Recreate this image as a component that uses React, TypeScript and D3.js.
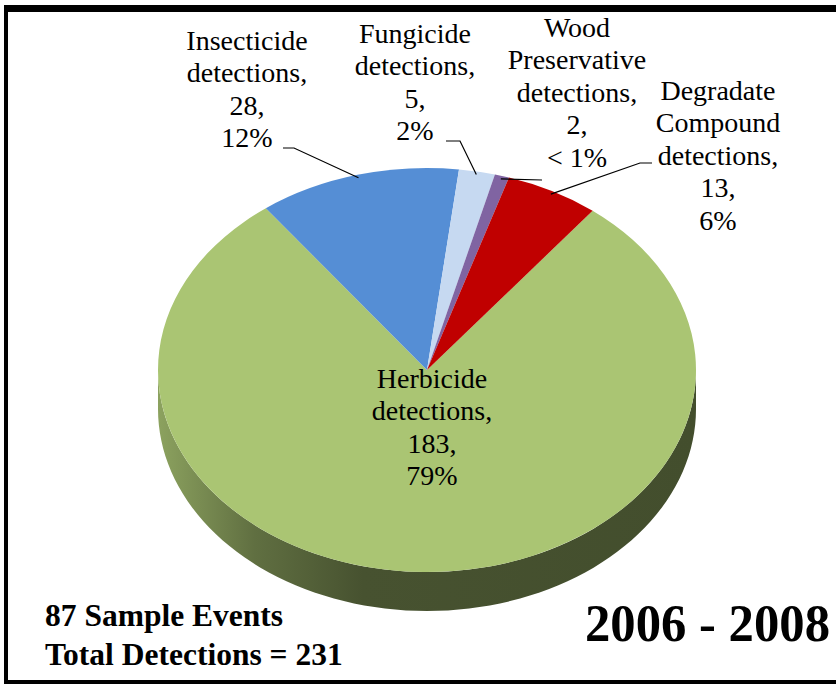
import React from "react";
import * as d3 from "d3";

// ---- data ----
const categories = ["Herbicide", "Insecticide", "Fungicide", "Wood Preservative", "Degradate Compound"];
const detections = [183, 28, 5, 2, 13];
const percentLabels = ["79%", "12%", "2%", "< 1%", "6%"];
const sliceColors = ["#AAC573", "#558ED5", "#C6D9F1", "#8064A2", "#C00000"];
const footerLines = ["87 Sample Events", "Total Detections = 231"];
const periodLabel = "2006 - 2008";
const firstSliceAngle = 38; // degrees, clockwise from 12 o'clock

// ---- layout ----
const W = 836, H = 685;
const cx = 427, cy = 370, rx = 269, ry = 202, depth = 39;
const lineH = 32.5;
const fontFamily = "Liberation Serif, DejaVu Serif, Times New Roman, serif";

// label placement (center x, center y of first line) and leader elbows
const labelLayout = [
  { x: 432, y: 378, leader: null as null | number[][] },
  { x: 247, y: 40, leader: [[283, 148], [294, 148]] },
  { x: 415, y: 33, leader: [[446, 141], [460, 141]] },
  { x: 577, y: 27, leader: [[542, 180]] },
  { x: 718, y: 90, leader: [[652, 163], [640, 163]] },
];

const rad = (d: number) => (d * Math.PI) / 180;
function rim(a: number, r = 1, dy = 0): [number, number] {
  return [cx + rx * r * Math.sin(a), cy - ry * r * Math.cos(a) + dy];
}

export default function App() {
  const start = rad(firstSliceAngle);
  const pie = d3.pie<number>().sort(null).startAngle(start).endAngle(start + 2 * Math.PI);
  const arcs = pie(detections);
  const arcGen = d3.arc<d3.PieArcDatum<number>>().innerRadius(0).outerRadius(rx);
  const line = d3.line();

  const sides: { i: number; d: string }[] = [];
  arcs.forEach((a, i) => {
    for (const off of [0, 2 * Math.PI]) {
      const lo = Math.max(a.startAngle, Math.PI / 2 + off);
      const hi = Math.min(a.endAngle, (3 * Math.PI) / 2 + off);
      if (hi > lo) {
        const n = 80;
        const pts: [number, number][] = [];
        for (let k = 0; k <= n; k++) pts.push(rim(lo + ((hi - lo) * k) / n));
        for (let k = n; k >= 0; k--) pts.push(rim(lo + ((hi - lo) * k) / n, 1, depth));
        sides.push({ i, d: line(pts) + "Z" });
      }
    }
  });

  const labelLines = (i: number) => [
    ...categories[i].split(" "),
    "detections,",
    `${detections[i]},`,
    percentLabels[i],
  ];

  return (
    <svg
      width={W}
      height={H}
      style={{ position: "absolute", left: 0, top: 0, background: "#fff", fontFamily }}
    >
      <defs>
        {sliceColors.map((c, i) => {
          const base = d3.color(c)!;
          return (
            <linearGradient
              key={i}
              id={`side${i}`}
              gradientUnits="userSpaceOnUse"
              x1={cx - rx}
              x2={cx + rx}
              y1={0}
              y2={0}
            >
              <stop offset="0" stopColor={base.darker(0.55).formatHex()} />
              <stop offset="0.18" stopColor={base.darker(1.6).formatHex()} />
              <stop offset="0.38" stopColor={base.darker(2.45).formatHex()} />
              <stop offset="1" stopColor={base.darker(2.6).formatHex()} />
            </linearGradient>
          );
        })}
      </defs>

      {/* frame */}
      <rect x={4} y={5} width={832} height={7} fill="#000" />
      <rect x={4} y={5} width={4} height={679} fill="#000" />
      <rect x={4} y={680} width={832} height={4} fill="#000" />

      {sides.map((s, k) => (
        <path key={k} d={s.d} fill={`url(#side${s.i})`} />
      ))}

      <g transform={`translate(${cx},${cy}) scale(1,${ry / rx})`}>
        {arcs.map((a, i) => (
          <path key={i} d={arcGen(a) || ""} fill={sliceColors[i]} />
        ))}
      </g>

      {arcs.map((a, i) => {
        const lay = labelLayout[i];
        if (!lay.leader) return null;
        const mid = (a.startAngle + a.endAngle) / 2;
        const pts = [...lay.leader, rim(mid, 0.985)] as [number, number][];
        return <path key={i} d={line(pts) || ""} fill="none" stroke="#000" strokeWidth={1.2} />;
      })}

      {arcs.map((a, i) => {
        const lay = labelLayout[i];
        return (
          <text key={i} textAnchor="middle" fontSize={28} fill="#000" style={{ fontFamily }}>
            {labelLines(i).map((t, k) => (
              <tspan key={k} x={lay.x} y={lay.y + k * lineH} dy="0.35em">
                {t}
              </tspan>
            ))}
          </text>
        );
      })}

      <text fontSize={31.5} fontWeight="bold" fill="#000" style={{ fontFamily }}>
        {footerLines.map((t, k) => (
          <tspan key={k} x={45} y={626 + k * 39}>
            {t}
          </tspan>
        ))}
      </text>
      <text
        x={585}
        y={641}
        fontSize={52}
        fontWeight="bold"
        fill="#000"
        textLength={245}
        lengthAdjust="spacingAndGlyphs"
        style={{ fontFamily }}
      >
        {periodLabel}
      </text>
    </svg>
  );
}
